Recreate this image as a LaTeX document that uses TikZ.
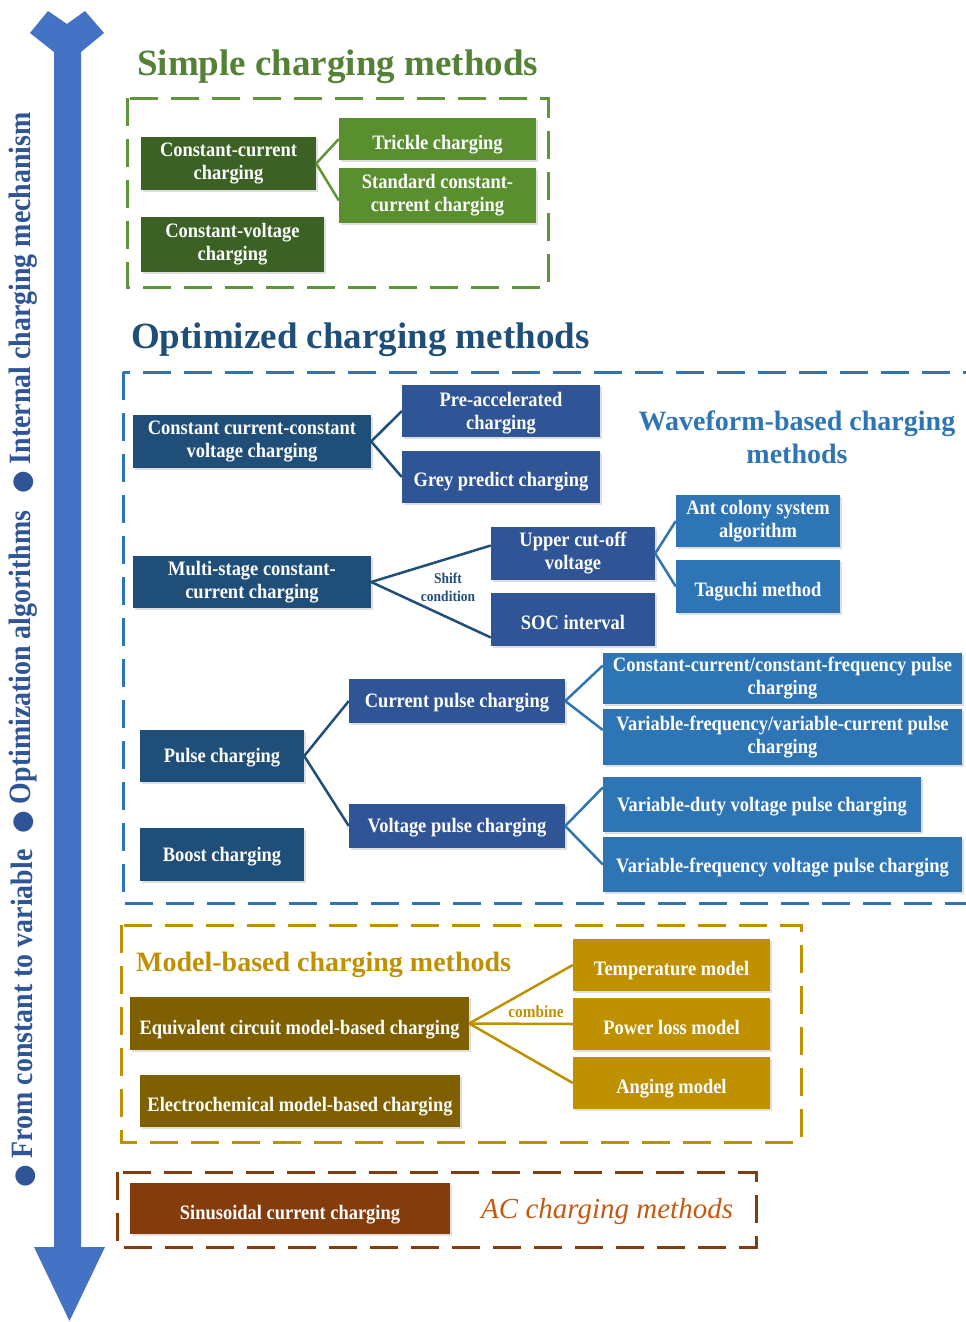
\documentclass[tikz,border=0pt]{standalone}
\usepackage{fontspec}
\setmainfont{Liberation Serif}
\newfontfamily\narrowserif{Liberation Serif}[FakeStretch=0.9]
\newfontfamily\symbolfont{DejaVu Sans}
\usetikzlibrary{calc,shadows}

\definecolor{arrowblue}{HTML}{4472C4}
\definecolor{sidetext}{HTML}{2F5597}
\definecolor{greentitle}{HTML}{538135}
\definecolor{greendash}{HTML}{5E9638}
\definecolor{greendark}{HTML}{3B6125}
\definecolor{greenlight}{HTML}{5A8F30}
\definecolor{navy}{HTML}{1F4E79}
\definecolor{royal}{HTML}{2F5597}
\definecolor{sky}{HTML}{2E75B6}
\definecolor{gold}{HTML}{BF9000}
\definecolor{olive}{HTML}{7F6000}
\definecolor{rust}{HTML}{843C0C}
\definecolor{ember}{HTML}{C55A11}

\tikzset{
  methodbox/.style={inner sep=2pt, align=center, text=white,
    font=\narrowserif\bfseries\fontsize{20.5}{23}\selectfont,
    drop shadow={opacity=0.25, shadow xshift=1.5pt, shadow yshift=-1.5pt}},
  gdk/.style={methodbox, fill=greendark},
  glt/.style={methodbox, fill=greenlight},
  nv/.style={methodbox, fill=navy},
  rb/.style={methodbox, fill=royal},
  sk/.style={methodbox, fill=sky},
  ol/.style={methodbox, fill=olive},
  gd/.style={methodbox, fill=gold},
  br/.style={methodbox, fill=rust},
  frame/.style={line width=3pt, dash pattern=on 28pt off 13pt},
  link/.style={line width=2.5pt},
  sidelabel/.style={rotate=90, anchor=west, inner sep=0pt, text=sidetext,
    font=\narrowserif\bfseries\fontsize{31}{31}\selectfont},
  bigtitle/.style={anchor=base west, inner sep=0pt,
    font=\bfseries\fontsize{37}{37}\selectfont},
  midtitle/.style={inner sep=0pt, font=\bfseries\fontsize{28}{33}\selectfont},
}

% \placebox{style}{name}{x1}{y1}{x2}{y2}{text}
\newcommand\placebox[7]{%
  \node[#1, minimum width={#5-#3}, minimum height={#6-#4}] (#2)
    at ({(#3+#5)/2},{(#4+#6)/2}) {#7};}
% single-line labels sit a little below the box centre
\newcommand\lowtext[2]{\raisebox{-#1pt}[\height][\depth]{#2}}
\newcommand\sidebullet{{\symbolfont\fontsize{26}{26}\selectfont ●}}

\begin{document}
\begin{tikzpicture}[x=1pt, y=-1pt]
\useasboundingbox (0,0) rectangle (966,1322);

% timeline arrow
\fill[arrowblue] (54,52) -- (30,33) -- (48,11) -- (67,24) -- (85,11) -- (104,33)
  -- (81,52) -- (81,1247) -- (105,1247) -- (69.5,1321) -- (34,1247) -- (54,1247) -- cycle;

% side labels
\node[sidelabel] (lab1) at (23,1188) {\sidebullet\ From constant to variable};
\node[sidelabel] (lab2) at (23,834) {\sidebullet\ Optimization algorithms};
\node[sidelabel] (lab3) at (23,494) {\sidebullet\ Internal charging mechanism};

% group frames
\draw[frame, greendash] (127,98) rectangle (548,287);
\draw[frame, sky] (123,372) rectangle (1010,903);
\draw[frame, gold] (121,925) rectangle (801,1142);
\draw[frame, rust] (117,1172) rectangle (756,1247);

% titles
\node[bigtitle, text=greentitle] (tsimple) at (137,76) {Simple charging methods};
\node[bigtitle, text=navy] (topt) at (131,348) {Optimized charging methods};
\node[midtitle, text=sky, align=center] (twave) at (797,437) {Waveform-based charging\\methods};
\node[midtitle, anchor=base west, text=gold] (tmodel) at (136,971) {Model-based charging methods};
\node[anchor=base west, inner sep=0pt, text=ember, font=\itshape\fontsize{29}{29}\selectfont] (tac) at (481,1218) {AC charging methods};

% simple charging methods
\placebox{gdk}{ccur}{141}{137}{316}{190}{Constant-current\\charging}
\placebox{glt}{trk}{339}{118}{536}{160}{\lowtext{6}{Trickle charging}}
\placebox{glt}{scc}{339}{168}{536}{223}{Standard constant-\\current charging}
\placebox{gdk}{cvol}{141}{217}{324}{272}{Constant-voltage\\charging}

% optimized charging methods
\placebox{nv}{cccv}{133}{415}{371}{468}{Constant current-constant\\voltage charging}
\placebox{rb}{prea}{402}{385}{600}{437}{\lowtext{2}{Pre-accelerated}\\\lowtext{2}{charging}}
\placebox{rb}{grey}{402}{451}{600}{503}{\lowtext{5}{Grey predict charging}}
\placebox{nv}{msc}{133}{556}{371}{608}{Multi-stage constant-\\current charging}
\placebox{rb}{ucv}{491}{527}{655}{580}{Upper cut-off\\voltage}
\placebox{rb}{soc}{491}{593}{655}{646}{\lowtext{3}{SOC interval}}
\placebox{sk}{ant}{676}{495}{840}{547}{Ant colony system\\algorithm}
\placebox{sk}{tag}{676}{560}{840}{613}{\lowtext{5}{Taguchi method}}
\placebox{nv}{pulse}{140}{730}{304}{782}{\lowtext{2}{Pulse charging}}
\placebox{nv}{boost}{140}{828}{304}{881}{\lowtext{2}{Boost charging}}
\placebox{rb}{cpc}{349}{679}{565}{723}{\lowtext{2}{Current pulse charging}}
\placebox{rb}{vpc}{349}{804}{565}{848}{\lowtext{2}{Voltage pulse charging}}
\placebox{sk}{cccf}{603}{653}{962}{704}{Constant-current/constant-frequency pulse\\charging}
\placebox{sk}{vfvc}{603}{709}{962}{765}{Variable-frequency/variable-current pulse\\charging}
\placebox{sk}{vdv}{603}{777}{921}{832}{\lowtext{2}{Variable-duty voltage pulse charging}}
\placebox{sk}{vfv}{603}{837}{962}{892}{\lowtext{3}{Variable-frequency voltage pulse charging}}

% model-based charging methods
\placebox{ol}{ecm}{130}{997}{469}{1050}{\lowtext{6}{Equivalent circuit model-based charging}}
\placebox{ol}{elc}{140}{1075}{460}{1127}{\lowtext{6}{Electrochemical model-based charging}}
\placebox{gd}{temp}{573}{939}{770}{991}{\lowtext{6}{Temperature model}}
\placebox{gd}{ploss}{573}{998}{770}{1050}{\lowtext{3}{Power loss model}}
\placebox{gd}{aging}{573}{1057}{770}{1109}{\lowtext{6}{Anging model}}

% AC charging methods
\placebox{br}{sine}{130}{1183}{450}{1234}{\lowtext{6}{Sinusoidal current charging}}

% connectors
\draw[link, greendash] (ccur.east) -- (trk.west);
\draw[link, greendash] (ccur.east) -- ($(scc.west)+(0,5)$);
\draw[link, navy] (cccv.east) -- (prea.west);
\draw[link, navy] (cccv.east) -- (grey.west);
\draw[link, navy] (msc.east) -- ($(ucv.west)+(0,-8)$);
\draw[link, navy] (msc.east) -- ($(soc.west)+(0,18)$);
\draw[link, sky] (ucv.east) -- (ant.west);
\draw[link, sky] (ucv.east) -- (tag.west);
\draw[link, navy] (pulse.east) -- (cpc.west);
\draw[link, navy] (pulse.east) -- (vpc.west);
\draw[link, sky] (cpc.east) -- ($(cccf.west)+(0,-13)$);
\draw[link, sky] (cpc.east) -- ($(vfvc.west)+(0,-7)$);
\draw[link, sky] (vpc.east) -- ($(vdv.west)+(0,-17)$);
\draw[link, sky] (vpc.east) -- (vfv.west);
\draw[link, gold] (ecm.east) -- (temp.west);
\draw[link, gold] (ecm.east) -- (ploss.west);
\draw[link, gold] (ecm.east) -- (aging.west);

% connector labels
\node[align=center, inner sep=0pt, text=navy,
  font=\narrowserif\bfseries\fontsize{15}{18}\selectfont] (shift) at (448,587) {Shift\\condition};
\node[inner sep=0pt, text=gold,
  font=\narrowserif\bfseries\fontsize{17}{17}\selectfont] (comb) at (536,1012) {combine};
\end{tikzpicture}
\end{document}
